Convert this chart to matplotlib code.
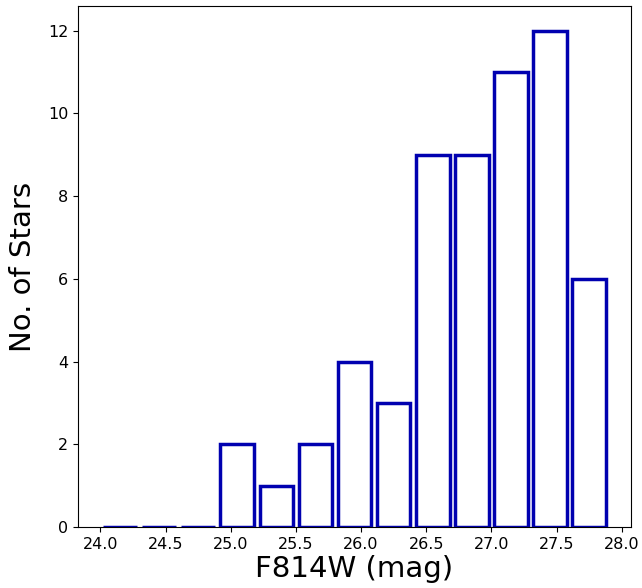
import numpy as np
import matplotlib.pyplot as plt

# histogram bins (F814W magnitude) and star counts per bin
bin_edges = [24.0, 24.3, 24.6, 24.9, 25.2, 25.5, 25.8, 26.1, 26.4, 26.7, 27.0, 27.3, 27.6, 27.9]
counts = [0, 0, 0, 2, 1, 2, 4, 3, 9, 9, 11, 12, 6]

edges = np.array(bin_edges)
centers = 0.5 * (edges[:-1] + edges[1:])

fig = plt.figure(figsize=(6.42, 5.88), dpi=100)
ax = fig.add_axes([0.1215, 0.1037, 0.8615, 0.8863])

ax.hist(centers, bins=edges, weights=counts, rwidth=0.86,
        histtype='bar', facecolor='white', edgecolor='#0000b0', linewidth=2.5)

ax.set_xticks([24.0, 24.5, 25.0, 25.5, 26.0, 26.5, 27.0, 27.5, 28.0])
ax.set_yticks([0, 2, 4, 6, 8, 10, 12])
ax.tick_params(labelsize=11.5)
ax.set_xlabel("F814W (mag)", fontsize=21, labelpad=2)
ax.set_ylabel("No. of Stars", fontsize=21, labelpad=8)

fig.savefig("out.png", dpi=100)
